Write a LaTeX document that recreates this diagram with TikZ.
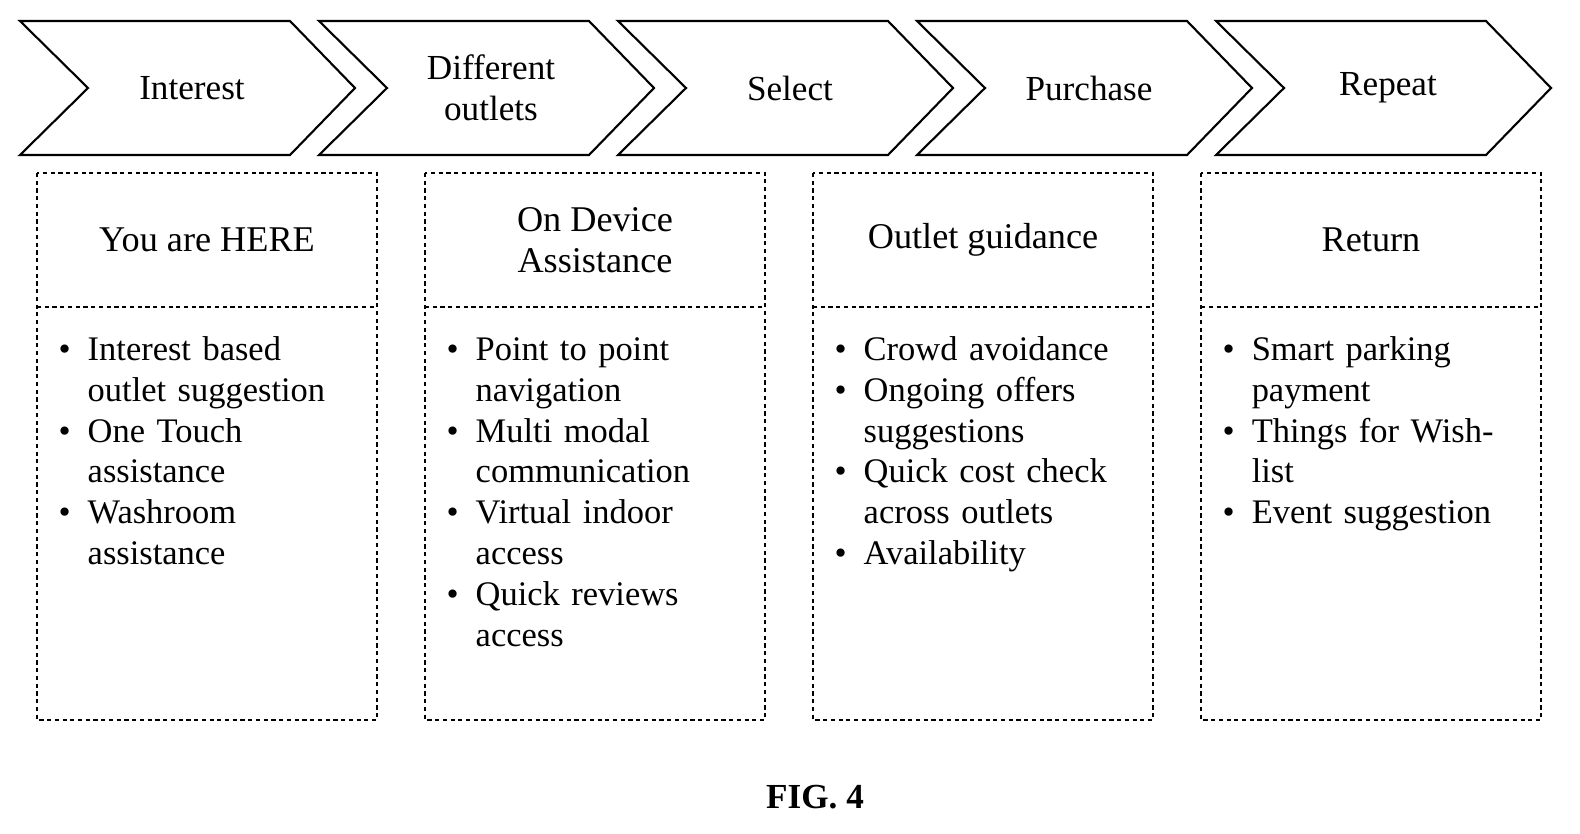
\documentclass[tikz,border=0pt]{standalone}
\usepackage{fontspec}
\setmainfont{Liberation Serif}
\begin{document}
\begin{tikzpicture}[x=0.01cm,y=-0.01cm,
 chev/.style={draw=black,line width=0.6pt},
 box/.style={draw=black,dashed,dash pattern=on 1.2pt off 1pt,line width=0.5pt},
 ctext/.style={font=\fontsize{10pt}{11.5pt}\selectfont,align=center},
 head/.style={font=\fontsize{10.3pt}{11.5pt}\selectfont,align=center},
 list/.style={font=\fontsize{9.8pt}{11.6pt}\selectfont,align=left,anchor=north west,text width=3.0cm,inner sep=0pt}]
\useasboundingbox (0,0) rectangle (1580,833);
\foreach \i/\t in {0/Interest,1/{Different\\outlets},2/Select,3/Purchase,4/Repeat}{
  \pgfmathsetmacro\xo{20+299*\i}
  \draw[chev] (\xo,21) -- (\xo+270,21) -- (\xo+335,88) -- (\xo+270,155) -- (\xo,155) -- (\xo+68,88) -- cycle;
  \node[ctext] (c\i) at (\xo+172,88) {\t};
}
\foreach \i/\h in {0/You are HERE,1/{On Device\\Assistance},2/Outlet guidance,3/Return}{
  \pgfmathsetmacro\xb{37+388*\i}
  \draw[box] (\xb,173) rectangle (\xb+340,720);
  \draw[box] (\xb,307) -- (\xb+340,307);
  \node[head] (h\i) at (\xb+170,240) {\h};
}
\newcommand\blist[1]{\begin{list}{\textbullet}{\leftmargin=0.32cm\labelwidth=0.15cm\labelsep=0.17cm\itemsep=0pt\parsep=0pt\topsep=0pt\rightmargin=0.12cm}#1\end{list}}
\node[list] (l0) at (55,319) {\blist{\item Interest based\\outlet suggestion \item One Touch\\assistance \item Washroom\\assistance}};
\node[list] (l1) at (443,319) {\blist{\item Point to point\\navigation \item Multi modal\\communication \item Virtual indoor\\access \item Quick reviews\\access}};
\node[list] (l2) at (831,319) {\blist{\item Crowd avoidance \item Ongoing offers\\suggestions \item Quick cost check\\across outlets \item Availability}};
\node[list] (l3) at (1219,319) {\blist{\item Smart parking\\payment \item Things for Wish-\\list \item Event suggestion}};
\node[font=\bfseries\fontsize{10pt}{12pt}\selectfont] (fig) at (815,797) {FIG. 4};
\end{tikzpicture}
\end{document}
